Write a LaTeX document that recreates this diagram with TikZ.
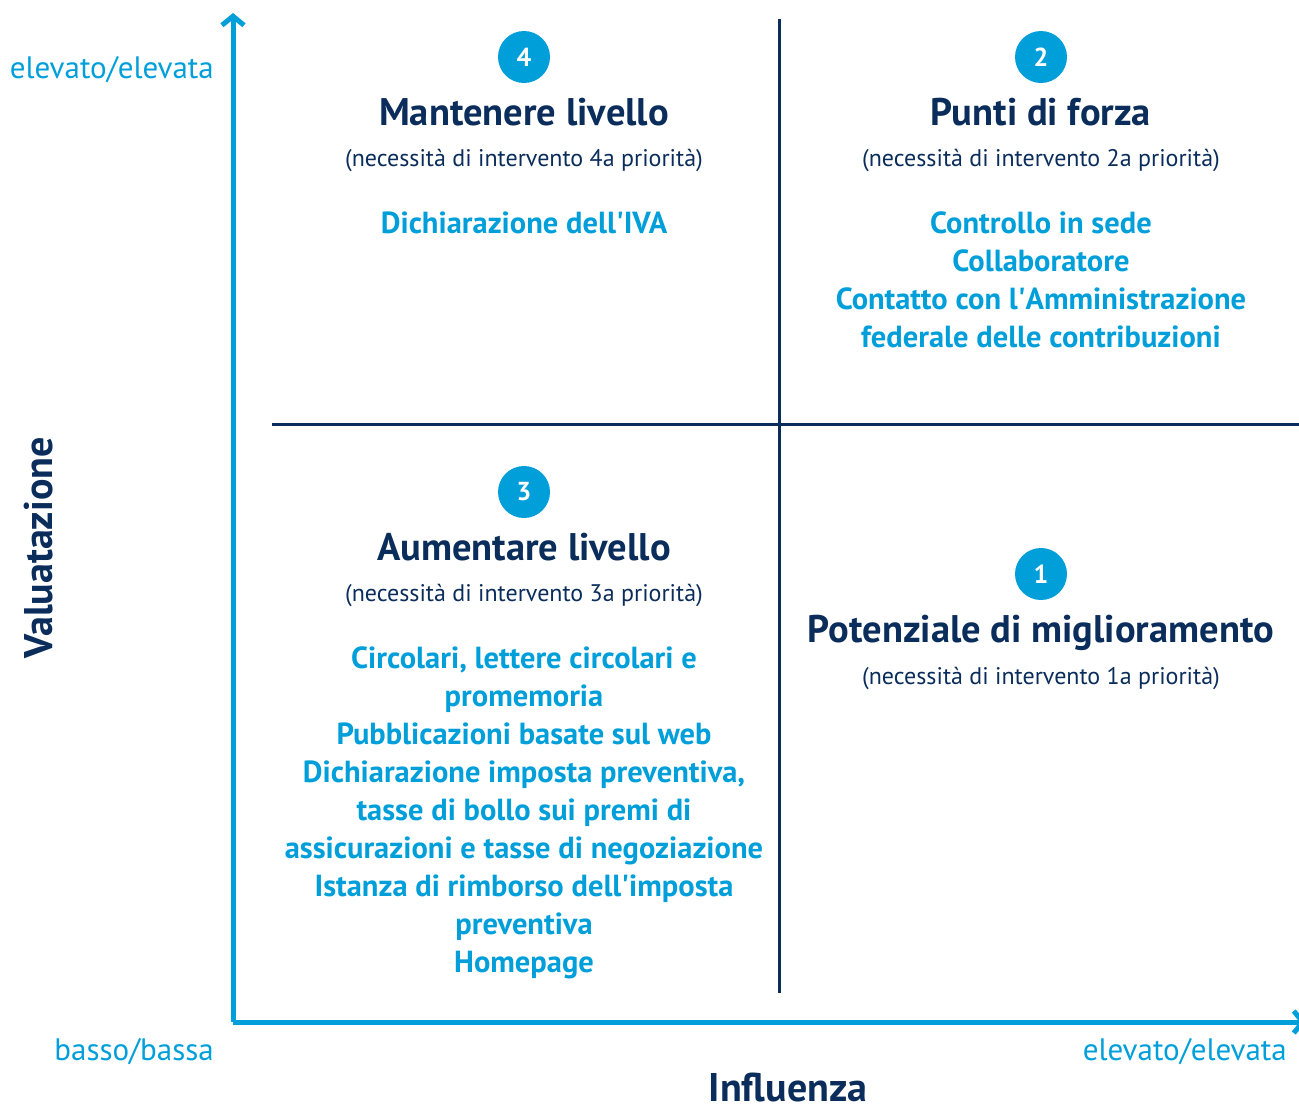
\documentclass[tikz,border=0pt]{standalone}
\usepackage{fontspec}
\setmainfont{PT Sans}
\usetikzlibrary{arrows.meta}
\definecolor{cy}{HTML}{009FDA}
\definecolor{nv}{HTML}{0B2D5B}
\newcommand\fsz[1]{\fontsize{#1}{#1}\selectfont}
\newcommand\apo{\textquotesingle}
\tikzset{
  axisline/.style={draw=cy, line width=5pt, -{Straight Barb[length=9pt,width=22pt]}},
  divline/.style={draw=nv, line width=3pt},
  badge/.style={circle, fill=cy, minimum size=52pt, inner sep=0pt, text=white, font=\fsz{26}\bfseries},
  qtitle/.style={anchor=base, inner sep=0pt, text=nv, font=\fsz{38.5}\bfseries},
  qsub/.style={anchor=base, inner sep=0pt, text=nv, font=\fsz{24}},
  item/.style={anchor=base, inner sep=0pt, text=cy, font=\fsz{30.5}\bfseries},
  axlab/.style={anchor=base, inner sep=0pt, text=cy, font=\fsz{31}},
  axtitle/.style={anchor=base, inner sep=0pt, text=nv, font=\fsz{40}\bfseries},
}
\begin{document}
\begin{tikzpicture}[x=1pt,y=-1pt]
\useasboundingbox (0,0) rectangle (1299,1112);
% axes
\coordinate (O) at (233,1022);
\coordinate (Ytop) at (233,13);
\coordinate (Xend) at (1306,1022);
\draw[axisline] (O) -- (Ytop);
\draw[axisline] (O) -- (Xend);
% dividers
\coordinate (vt) at (779,19);
\coordinate (vb) at (779,993);
\coordinate (hl) at (272,424);
\coordinate (hr) at (1299,424);
\draw[divline] (vt) -- (vb);
\draw[divline] (hl) -- (hr);
% badges
\node[badge] (b4) at (524,57) {4};
\node[badge] (b2) at (1041,57) {2};
\node[badge] (b3) at (524,492) {3};
\node[badge] (b1) at (1041,574) {1};
% quadrant 4
\node[qtitle] (t4) at (524,125) {Mantenere livello};
\node[qsub] (s4) at (524,166) {(necessità di intervento 4a priorità)};
\node[item] (i4a) at (524,233) {Dichiarazione dell\apo IVA};
% quadrant 2
\node[qtitle] (t2) at (1041,125) {Punti di forza};
\node[qsub] (s2) at (1041,166) {(necessità di intervento 2a priorità)};
\node[item] (i2a) at (1041,233) {Controllo in sede};
\node[item] (i2b) at (1041,271) {Collaboratore};
\node[item] (i2c) at (1041,309) {Contatto con l\apo Amministrazione};
\node[item] (i2d) at (1041,347) {federale delle contribuzioni};
% quadrant 3
\node[qtitle] (t3) at (524,560) {Aumentare livello};
\node[qsub] (s3) at (524,601) {(necessità di intervento 3a priorità)};
\node[item] (i3a) at (524,668) {Circolari, lettere circolari e};
\node[item] (i3b) at (524,706) {promemoria};
\node[item] (i3c) at (524,744) {Pubblicazioni basate sul web};
\node[item] (i3d) at (524,782) {Dichiarazione imposta preventiva,};
\node[item] (i3e) at (524,820) {tasse di bollo sui premi di};
\node[item] (i3f) at (524,858) {assicurazioni e tasse di negoziazione};
\node[item] (i3g) at (524,896) {Istanza di rimborso dell\apo imposta};
\node[item] (i3h) at (524,934) {preventiva};
\node[item] (i3i) at (524,972) {Homepage};
% quadrant 1
\node[qtitle] (t1) at (1041,642) {Potenziale di miglioramento};
\node[qsub] (s1) at (1041,684) {(necessità di intervento 1a priorità)};
% axis labels
\node[axlab, anchor=base east] (yhi) at (214,78) {elevato/elevata};
\node[axlab, anchor=base east] (xlo) at (214,1060) {basso/bassa};
\node[axlab, anchor=base east] (xhi) at (1287,1060) {elevato/elevata};
\node[axtitle] (xt) at (788,1101) {Influenza};
\node[axtitle, rotate=90] (yt) at (52,548) {Valuatazione};
\end{tikzpicture}
\end{document}
